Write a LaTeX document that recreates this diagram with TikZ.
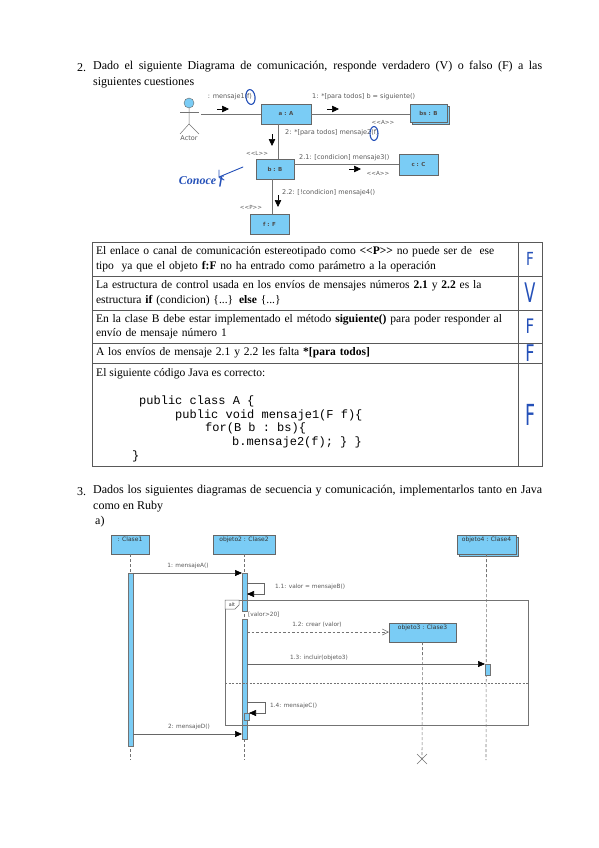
\documentclass[tikz,border=0pt]{standalone}
\usepackage{fontspec}
\setmainfont{Liberation Serif}
\setsansfont{DejaVu Sans}
\setmonofont{Liberation Mono}
\usepackage{xcolor}
\usepackage{tikz}
\usetikzlibrary{positioning,arrows.meta,shapes.geometric,calc}
\definecolor{umlblue}{HTML}{7ACCF5}
\definecolor{inkblue}{HTML}{2450B8}

\begin{document}
\begin{tikzpicture}[
    x=1pt, y=-1pt,
    para/.style={anchor=north west, inner sep=0pt, text width=449pt, align=justify, font=\fontsize{12}{16}\selectfont},
    plain/.style={anchor=west, inner sep=0pt, font=\fontsize{12}{14}\selectfont},
    cell/.style={draw=black!65, line width=0.7pt, outer sep=0pt, anchor=north west, inner sep=0pt, inner xsep=4pt, minimum width=#1, text width=#1-8pt, align=left, font=\fontsize{11.55}{14.5}\selectfont},
    answer/.style={anchor=center, inner sep=0pt, text=inkblue, font=\sffamily\fontsize{#1}{#1}\selectfont},
    code/.style={anchor=west, inner sep=0pt, font=\ttfamily\fontsize{12}{14}\selectfont},
    umlbox/.style={draw=black!60, fill=umlblue, line width=0.7pt, inner sep=0pt, outer sep=0pt, anchor=north west},
    boxtext/.style={font=\sffamily\bfseries\fontsize{5.5}{6}\selectfont, text=black!70},
    headtext/.style={font=\sffamily\fontsize{6}{6}\selectfont, text=black!80},
    msg/.style={inner sep=0pt, font=\sffamily\fontsize{5.8}{6}\selectfont, text=black!65},
    commsg/.style={msg, font=\sffamily\fontsize{6.5}{7}\selectfont},
    stereo/.style={msg, font=\sffamily\fontsize{5.6}{6}\selectfont},
    link/.style={draw=black!55, line width=0.8pt},
    lifeline/.style={draw=black!55, line width=0.6pt, dash pattern=on 3pt off 2pt},
    call/.style={draw=black!60, line width=0.6pt, -{Triangle[length=7pt,width=6pt,color=black,fill=black]}},
    flowmark/.style={draw=black, line width=0.6pt, -{Triangle[length=7pt,width=6.5pt,fill=black]}},
    activation/.style={draw=black!55, fill=umlblue, line width=0.5pt, inner sep=0pt, outer sep=0pt, anchor=north west},
    ink/.style={draw=inkblue, line width=1.1pt, line cap=round},
  ]
  \useasboundingbox (0,0) rectangle (599,848);

  % Question 2
  \node[plain] (num2) at (77,68) {2.};
  \node[para] (q2) at (93,61) {Dado el siguiente Diagrama de comunicación, responde verdadero (V) o falso (F) a las \mbox{siguientes} cuestiones};

  % Communication diagram objects
  \node[umlbox, minimum width=50, minimum height=20] (a) at (261,104) {};
  \node[umlbox, minimum width=37, minimum height=18] (bsback) at (412,106) {};
  \node[umlbox, minimum width=37, minimum height=18] (bs) at (410,104) {};
  \node[umlbox, minimum width=39, minimum height=21] (c) at (399,154) {};
  \node[umlbox, minimum width=38, minimum height=20] (b) at (256,159) {};
  \node[umlbox, minimum width=39, minimum height=20] (f) at (250,214) {};
  \node[boxtext] (alabel) at (a.center) {a : A};
  \node[boxtext] (bslabel) at (bs.center) {bs : B};
  \node[boxtext] (clabel) at (c.center) {c : C};
  \node[boxtext] (blabel) at (b.center) {b : B};
  \node[boxtext] (flabel) at (f.center) {f : F};

  % Actor
  \node[draw=black!60, fill=umlblue, circle, minimum size=10pt, inner sep=0pt] (head) at (189,103) {};
  \coordinate (hip) at (189,124);
  \coordinate (armL) at (180,112);
  \coordinate (armR) at (199,112);
  \coordinate (footL) at (180,134);
  \coordinate (footR) at (199,134);
  \draw[link, line width=0.5pt] (head) -- (hip) -- (footL);
  \draw[link, line width=0.5pt] (hip) -- (footR);
  \draw[link, line width=0.5pt] (armL) -- (armR);
  \node[commsg] (actor) at (189,138.5) {Actor};

  % Links
  \coordinate (actorend) at (201,114);
  \coordinate (astop) at (278,124);
  \coordinate (bstop) at (278,159);
  \coordinate (bout) at (272,179);
  \coordinate (ftop) at (272,214);
  \draw[link] (actorend) -- (a.west);
  \draw[link] (a.east) -- (a.east -| bs.west);
  \draw[link] (astop) -- (bstop);
  \draw[link] (b.east |- 0,164) coordinate (bright) -- (c.west |- bright);
  \draw[link] (bout) -- (ftop);

  % Direction marks beside the links
  \foreach \mark/\xa/\ya/\xb/\yb in {ma/217/109/229/109, mb/327/109/339/109, mc/272/134/272/146, md/349/169/361/169, me/278/195/278/207} {
    \coordinate (\mark s) at (\xa,\ya);
    \coordinate (\mark e) at (\xb,\yb);
    \draw[flowmark] (\mark s) -- (\mark e);
  }

  % Message labels
  \node[commsg] (m0) at (230,97) {: mensaje1(f)};
  \node[commsg, anchor=west] (m1) at (312,97) {1: *[para todos] b = siguiente()};
  \node[commsg, anchor=west] (m2) at (285,132.5) {2: *[para todos] mensaje2(f)};
  \node[commsg, anchor=west] (m21) at (299,157.5) {2.1: [condicion] mensaje3()};
  \node[commsg, anchor=west] (m22) at (282,192.5) {2.2: [!condicion] mensaje4()};
  \node[stereo] (sa1) at (383,122.5) {<{}<A>{}>};
  \node[stereo] (sl) at (257,153) {<{}<L>{}>};
  \node[stereo] (sa2) at (378,173) {<{}<A>{}>};
  \node[stereo] (sp) at (251,207.5) {<{}<P>{}>};

  % Handwritten marks
  \node[ink, ellipse, minimum width=9pt, minimum height=15pt, inner sep=0pt, rotate=8] (circ1) at (250.5,97) {};
  \node[ink, ellipse, minimum width=8pt, minimum height=14pt, inner sep=0pt] (circ2) at (374,133.5) {};
  \node[inner sep=0pt, text=inkblue, font=\itshape\bfseries\fontsize{12}{12}\selectfont] (note) at (201,182) {Conoce f};
  \coordinate (tail) at (243,167);
  \coordinate (tip) at (219,177);
  \coordinate (tipa) at (219,170);
  \coordinate (tipb) at (224,180);
  \draw[ink, line width=0.9pt] (tail) -- (tip);
  \draw[ink, line width=0.9pt] (tipa) -- (tip) -- (tipb);

  % Question table
  \node[cell=426pt, minimum height=34] (r1) at (92,242) {El enlace o canal de comunicación estereotipado como \textbf{<{}<P>{}>} no puede ser de~ ese tipo~ ya que el objeto \textbf{f:F} no ha entrado como parámetro a la operación};
  \node[cell=426pt, minimum height=34] (r2) at (r1.south west) {La estructura de control usada en los envíos de mensajes números \textbf{2.1} y \textbf{2.2} es la \mbox{estructura} \textbf{if} (condicion) \{...\} \textbf{else} \{...\}};
  \node[cell=426pt, minimum height=33] (r3) at (r2.south west) {En la clase B debe estar implementado el método \textbf{siguiente()} para poder responder al envío de mensaje número 1};
  \node[cell=426pt, minimum height=20] (r4) at (r3.south west) {A los envíos de mensaje 2.1 y 2.2 les falta \textbf{*[para todos]}};
  \node[cell=426pt, minimum height=103] (r5) at (r4.south west) {};
  \node[cell=24pt, minimum height=34] (s1) at (r1.north east) {};
  \node[cell=24pt, minimum height=34] (s2) at (r2.north east) {};
  \node[cell=24pt, minimum height=33] (s3) at (r3.north east) {};
  \node[cell=24pt, minimum height=20] (s4) at (r4.north east) {};
  \node[cell=24pt, minimum height=103] (s5) at (r5.north east) {};

  % Answers
  \node[answer=18] (af1) at (s1.center) {\scalebox{0.75}[1]{F}};
  \node[answer=27] (av2) at (s2.center) {\scalebox{0.6}[1]{V}};
  \node[answer=20] (af3) at (s3.center) {\scalebox{0.75}[1]{F}};
  \node[answer=23] (af4) at (s4.center) {\scalebox{0.7}[1]{F}};
  \node[answer=29] (af5) at (s5.center) {\scalebox{0.6}[1]{F}};

  % Java code in the last row
  \node[plain, font=\fontsize{11.55}{14}\selectfont] (codeintro) at (96,374) {El siguiente código Java es correcto:};
  \node[code] (code1) at (139,401) {public class A \{};
  \node[code] (code2) at (175,415) {public void mensaje1(F f)\{};
  \node[code] (code3) at (205,428) {for(B b : bs)\{};
  \node[code] (code4) at (232,442) {b.mensaje2(f); \} \}};
  \node[code] (code5) at (132,456) {\}};

  % Question 3
  \node[plain] (num3) at (77,492) {3.};
  \node[para] (q3) at (93,485) {Dados los siguientes diagramas de secuencia y comunicación, implementarlos tanto en Java como en Ruby};
  \node[plain] (parta) at (95,521.5) {a)};

  % Sequence diagram objects
  \node[umlbox, minimum width=38, minimum height=19] (clase1) at (111,535) {};
  \node[umlbox, minimum width=62, minimum height=19] (objeto2) at (213,535) {};
  \node[umlbox, minimum width=59, minimum height=19] (objeto4back) at (459,537) {};
  \node[umlbox, minimum width=59, minimum height=19] (objeto4) at (457,535) {};
  \node[umlbox, minimum width=67, minimum height=19] (objeto3) at (389,623) {};
  \node[headtext, inner sep=0pt, below=1.5pt of clase1.north] (t1) {: Clase1};
  \node[headtext, inner sep=0pt, below=1.5pt of objeto2.north] (t2) {objeto2 : Clase2};
  \node[headtext, inner sep=0pt, below=1.5pt of objeto4.north] (t4) {objeto4 : Clase4};
  \node[headtext, inner sep=0pt, below=1.5pt of objeto3.north] (t3) {objeto3 : Clase3};

  % Lifeline ends
  \coordinate (end1) at (130,760);
  \coordinate (end2) at (244,760);
  \coordinate (end3) at (422,759);
  \coordinate (end4) at (486,760);
  \draw[lifeline] (clase1.south) -- (end1);
  \draw[lifeline] (objeto2.south) -- (end2);
  \draw[lifeline] (objeto3.south) -- (end3);
  \draw[lifeline] (objeto4.south) -- (end4);
  \coordinate (xa) at (417,754);
  \coordinate (xb) at (427,764);
  \coordinate (xc) at (417,764);
  \coordinate (xd) at (427,754);
  \draw[link, line width=0.6pt] (xa) -- (xb);
  \draw[link, line width=0.6pt] (xc) -- (xd);

  % Activations
  \node[activation, minimum width=5, minimum height=173] (act1) at (128,573) {};
  \node[activation, minimum width=5, minimum height=38] (act2a) at (242,573) {};
  \node[activation, minimum width=5, minimum height=120] (act2b) at (242,619) {};
  \node[activation, minimum width=5, minimum height=7] (act3) at (244,713) {};
  \node[activation, minimum width=5, minimum height=11] (act4) at (485,664) {};

  % alt frame
  \node[draw=black!55, line width=0.8pt, anchor=north west, inner sep=0pt, outer sep=0pt, minimum width=303, minimum height=125] (frame) at (225,600) {};
  \coordinate (tabr) at (239,600);
  \coordinate (tabk) at (239,605);
  \coordinate (tabb) at (235,609);
  \coordinate (tabl) at (225,609);
  \draw[black!60, line width=0.5pt, fill=white] (frame.north west) -- (tabr) -- (tabk) -- (tabb) -- (tabl) -- cycle;
  \node[msg, font=\sffamily\fontsize{4.8}{5}\selectfont, text=black!80] (alt) at (232,604.5) {alt};
  \node[msg, anchor=west] (guard) at (248,614.5) {[valor>20]};
  \coordinate (dashl) at (225,683);
  \coordinate (dashr) at (528,683);
  \draw[lifeline, dash pattern=on 2pt off 1.5pt] (dashl) -- (dashr);

  % Calls
  \coordinate (src1) at (133,573);
  \coordinate (src2) at (133,734);
  \coordinate (src3) at (247,664);
  \coordinate (src4) at (247,632);
  \draw[call] (src1) -- (act2a.north west);
  \draw[call] (src2) -- (242,734) coordinate (dst2);
  \draw[call] (src3) -- (act4.north west);
  \draw[lifeline, dash pattern=on 2.5pt off 2pt, -{Straight Barb[length=6pt,width=6pt]}] (src4) -- (objeto3.west |- src4);

  % Self calls
  \coordinate (sa) at (247,583);
  \coordinate (sb) at (264,583);
  \coordinate (sc) at (264,594);
  \coordinate (sd) at (247,594);
  \draw[call] (sa) -- (sb) -- (sc) -- (sd);
  \coordinate (se) at (247,702);
  \coordinate (sf) at (265,702);
  \coordinate (sg) at (265,713);
  \coordinate (sh) at (249,713);
  \draw[call] (se) -- (sf) -- (sg) -- (sh);

  % Call labels
  \node[msg] (c1) at (188,566) {1: mensajeA()};
  \node[msg, anchor=west] (c11) at (275,587) {1.1: valor = mensajeB()};
  \node[msg] (c12) at (317,624.5) {1.2: crear (valor)};
  \node[msg] (c13) at (319,657.5) {1.3: incluir(objeto3)};
  \node[msg, anchor=west] (c14) at (270,706) {1.4: mensajeC()};
  \node[msg] (c2) at (189,727) {2: mensajeD()};
\end{tikzpicture}
\end{document}
